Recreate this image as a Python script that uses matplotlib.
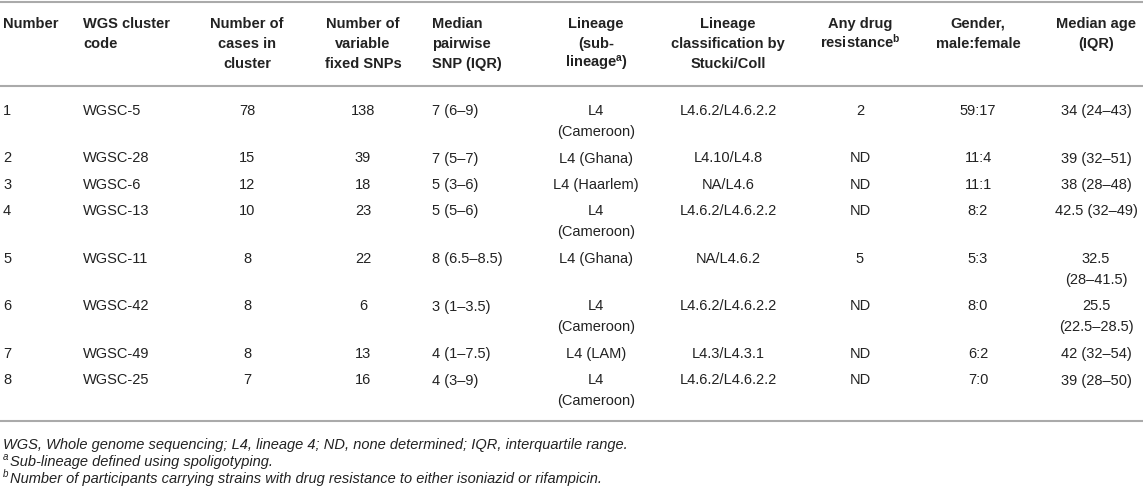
import matplotlib
matplotlib.use("Agg")
import matplotlib.pyplot as plt
from matplotlib.lines import Line2D

plt.rcParams['font.family'] = ['Liberation Sans', 'DejaVu Sans']
plt.rcParams['mathtext.fontset'] = 'custom'
plt.rcParams['mathtext.rm'] = 'Liberation Sans'
plt.rcParams['mathtext.it'] = 'Liberation Sans:italic'
plt.rcParams['mathtext.bf'] = 'Liberation Sans:bold'

W, H = 1143, 489

# table content
headers = [
    "Number",
    "WGS cluster\ncode",
    "Number of\ncases in\ncluster",
    "Number of\nvariable\nfixed SNPs",
    "Median\npairwise\nSNP (IQR)",
    "Lineage\n(sub-\nlineage$^{\\mathregular{a}}$)",
    "Lineage\nclassification by\nStucki/Coll",
    "Any drug\nresistance$^{\\mathregular{b}}$",
    "Gender,\nmale:female",
    "Median age\n(IQR)",
]
numbers = ["1", "2", "3", "4", "5", "6", "7", "8"]
cluster_codes = ["WGSC-5", "WGSC-28", "WGSC-6", "WGSC-13", "WGSC-11", "WGSC-42", "WGSC-49", "WGSC-25"]
n_cases = ["78", "15", "12", "10", "8", "8", "8", "7"]
n_snps = ["138", "39", "18", "23", "22", "6", "13", "16"]
median_snp = ["7 (6–9)", "7 (5–7)", "5 (3–6)", "5 (5–6)", "8 (6.5–8.5)", "3 (1–3.5)", "4 (1–7.5)", "4 (3–9)"]
lineage = ["L4\n(Cameroon)", "L4 (Ghana)", "L4 (Haarlem)", "L4\n(Cameroon)", "L4 (Ghana)",
           "L4\n(Cameroon)", "L4 (LAM)", "L4\n(Cameroon)"]
lineage_class = ["L4.6.2/L4.6.2.2", "L4.10/L4.8", "NA/L4.6", "L4.6.2/L4.6.2.2", "NA/L4.6.2",
                 "L4.6.2/L4.6.2.2", "L4.3/L4.3.1", "L4.6.2/L4.6.2.2"]
drug_res = ["2", "ND", "ND", "ND", "5", "ND", "ND", "ND"]
gender = ["59:17", "11:4", "11:1", "8:2", "5:3", "8:0", "6:2", "7:0"]
median_age = ["34 (24–43)", "39 (32–51)", "38 (28–48)", "42.5 (32–49)", "32.5\n(28–41.5)",
              "25.5\n(22.5–28.5)", "42 (32–54)", "39 (28–50)"]
footnote_marks = ["", "a", "b"]
footnotes = [
    "WGS, Whole genome sequencing; L4, lineage 4; ND, none determined; IQR, interquartile range.",
    "Sub-lineage defined using spoligotyping.",
    "Number of participants carrying strains with drug resistance to either isoniazid or rifampicin.",
]

columns = [numbers, cluster_codes, n_cases, n_snps, median_snp, lineage, lineage_class,
           drug_res, gender, median_age]
col_x = [3, 83, 247, 363, 432, 596, 728, 860, 978, 1096]
col_ha = ["left", "left", "center", "center", "left", "center", "center", "center", "center", "center"]

FS = 10.5
TXT = "#222222"
RULE = "#aaaaaa"


def fx(x):
    return x / W


def fy(y):
    return 1 - y / H


fig = plt.figure(figsize=(W / 100, H / 100), dpi=100)


def hline(y):
    fig.add_artist(Line2D([0, 1], [fy(y), fy(y)], transform=fig.transFigure,
                          color=RULE, lw=1.5))


def put(x, y, s, ha, size=FS, **kw):
    # y is the visual middle of the capitals; place by baseline
    fig.text(fx(x), fy(y + 5), s, ha=ha, va="baseline", fontsize=size, color=TXT, **kw)


hline(3)
hline(87)
hline(422)

# header
for x, ha, h in zip(col_x, col_ha, headers):
    for i, line in enumerate(h.split("\n")):
        put(x, 23 + 20 * i, line, ha, fontweight="bold")

# body rows
y = 110
for r in range(len(numbers)):
    nlines = 1
    for x, ha, col in zip(col_x, col_ha, columns):
        parts = col[r].split("\n")
        nlines = max(nlines, len(parts))
        for i, line in enumerate(parts):
            put(x, y + 21 * i, line, ha)
    y += 26.5 + 21 * (nlines - 1)

# footnotes
for i, (mark, note) in enumerate(zip(footnote_marks, footnotes)):
    fy_i = 444 + 17 * i
    x0 = 3
    if mark:
        put(x0, fy_i - 5.5, mark, "left", size=7, fontstyle="italic")
        x0 += 7
    put(x0, fy_i, note, "left", fontstyle="italic")

fig.savefig("out.png", dpi=100)
